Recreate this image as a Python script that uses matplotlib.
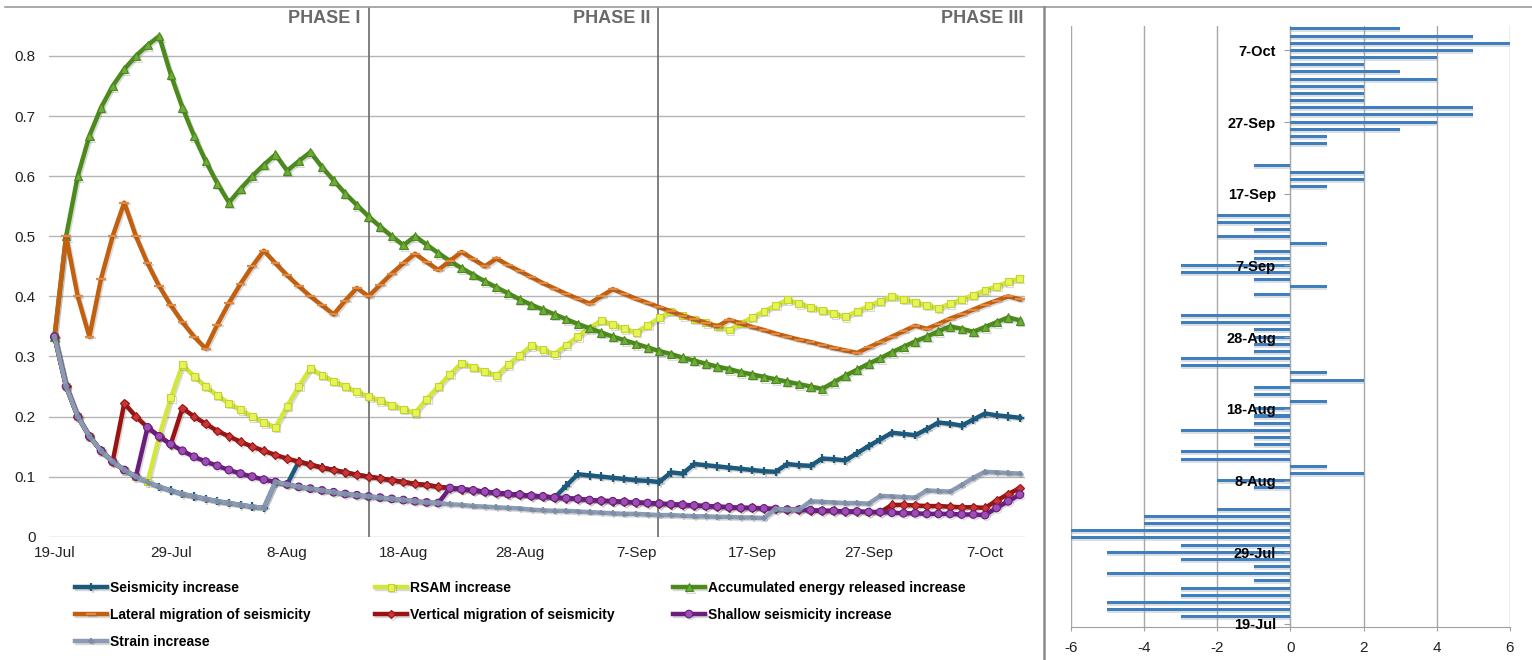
import numpy as np
import matplotlib
matplotlib.use("Agg")
import matplotlib.pyplot as plt
import matplotlib.patheffects as pe
from matplotlib.lines import Line2D

plt.rcParams['font.family'] = ['Liberation Sans', 'DejaVu Sans']
plt.rcParams['axes.unicode_minus'] = False

# daily probability of each precursor (one value per day from 19-Jul)
seismicity = [0.333, 0.25, 0.2, 0.167, 0.143, 0.125, 0.111, 0.1, 0.091, 0.083,
              0.077, 0.071, 0.067, 0.063, 0.059, 0.056, 0.053, 0.05, 0.048, 0.091,
              0.087, 0.125, 0.12, 0.115, 0.111, 0.107, 0.103, 0.1, 0.097, 0.094,
              0.091, 0.088, 0.086, 0.083, 0.081, 0.079, 0.077, 0.075, 0.073, 0.071,
              0.070, 0.068, 0.067, 0.065, 0.085, 0.104, 0.102, 0.1, 0.098, 0.096,
              0.094, 0.093, 0.091, 0.107, 0.105, 0.121, 0.119, 0.117, 0.115, 0.113,
              0.111, 0.109, 0.108, 0.121, 0.119, 0.118, 0.130, 0.129, 0.127, 0.139,
              0.151, 0.162, 0.173, 0.171, 0.169, 0.179, 0.190, 0.188, 0.185, 0.195,
              0.205, 0.202, 0.2, 0.198]
rsam = [0.333, 0.25, 0.2, 0.167, 0.143, 0.125, 0.111, 0.1, 0.091, 0.167,
        0.231, 0.286, 0.267, 0.25, 0.235, 0.222, 0.211, 0.2, 0.190, 0.182,
        0.217, 0.25, 0.28, 0.269, 0.259, 0.25, 0.241, 0.233, 0.226, 0.219,
        0.212, 0.206, 0.229, 0.25, 0.270, 0.289, 0.282, 0.275, 0.268, 0.286,
        0.302, 0.318, 0.311, 0.304, 0.319, 0.333, 0.347, 0.36, 0.353, 0.346,
        0.340, 0.352, 0.364, 0.375, 0.368, 0.362, 0.356, 0.35, 0.344, 0.355,
        0.365, 0.375, 0.385, 0.394, 0.388, 0.382, 0.377, 0.371, 0.366, 0.375,
        0.384, 0.392, 0.4, 0.395, 0.390, 0.385, 0.380, 0.388, 0.395, 0.402,
        0.410, 0.417, 0.424, 0.430]
energy = [0.333, 0.5, 0.6, 0.667, 0.714, 0.75, 0.778, 0.8, 0.818, 0.833,
          0.769, 0.714, 0.667, 0.625, 0.588, 0.556, 0.579, 0.6, 0.619, 0.636,
          0.609, 0.625, 0.64, 0.615, 0.593, 0.571, 0.552, 0.533, 0.516, 0.5,
          0.485, 0.5, 0.486, 0.472, 0.459, 0.447, 0.436, 0.425, 0.415, 0.405,
          0.395, 0.386, 0.378, 0.370, 0.362, 0.354, 0.347, 0.34, 0.333, 0.327,
          0.321, 0.315, 0.309, 0.304, 0.298, 0.293, 0.288, 0.283, 0.279, 0.274,
          0.270, 0.266, 0.262, 0.258, 0.254, 0.25, 0.246, 0.257, 0.268, 0.278,
          0.288, 0.297, 0.307, 0.316, 0.325, 0.333, 0.342, 0.35, 0.346, 0.341,
          0.349, 0.357, 0.365, 0.360]
lateral = [0.333, 0.5, 0.4, 0.333, 0.429, 0.5, 0.556, 0.5, 0.455, 0.417,
           0.385, 0.357, 0.333, 0.313, 0.353, 0.389, 0.421, 0.45, 0.476, 0.455,
           0.435, 0.417, 0.4, 0.385, 0.370, 0.393, 0.414, 0.4, 0.419, 0.438,
           0.455, 0.471, 0.457, 0.444, 0.459, 0.474, 0.462, 0.45, 0.463, 0.452,
           0.442, 0.432, 0.422, 0.413, 0.404, 0.396, 0.388, 0.4, 0.412, 0.404,
           0.396, 0.389, 0.382, 0.375, 0.368, 0.362, 0.356, 0.35, 0.361, 0.355,
           0.349, 0.344, 0.338, 0.333, 0.328, 0.324, 0.319, 0.314, 0.310, 0.306,
           0.315, 0.324, 0.333, 0.342, 0.351, 0.346, 0.354, 0.363, 0.370, 0.378,
           0.386, 0.393, 0.4, 0.395]
vertical = [0.333, 0.25, 0.2, 0.167, 0.143, 0.125, 0.222, 0.2, 0.182, 0.167,
            0.154, 0.214, 0.2, 0.188, 0.176, 0.167, 0.158, 0.15, 0.143, 0.136,
            0.130, 0.125, 0.12, 0.115, 0.111, 0.107, 0.103, 0.1, 0.097, 0.094,
            0.091, 0.088, 0.086, 0.083, 0.081, 0.079, 0.077, 0.075, 0.073, 0.071,
            0.070, 0.068, 0.067, 0.065, 0.064, 0.063, 0.061, 0.06, 0.059, 0.058,
            0.057, 0.056, 0.055, 0.054, 0.053, 0.052, 0.051, 0.05, 0.049, 0.048,
            0.048, 0.047, 0.046, 0.045, 0.045, 0.044, 0.043, 0.043, 0.042, 0.042,
            0.041, 0.041, 0.053, 0.053, 0.052, 0.051, 0.051, 0.05, 0.049, 0.049,
            0.048, 0.060, 0.071, 0.081]
shallow = [0.333, 0.25, 0.2, 0.167, 0.143, 0.125, 0.111, 0.1, 0.182, 0.167,
           0.154, 0.143, 0.133, 0.125, 0.118, 0.111, 0.105, 0.1, 0.095, 0.091,
           0.087, 0.083, 0.08, 0.077, 0.074, 0.071, 0.069, 0.067, 0.065, 0.063,
           0.061, 0.059, 0.057, 0.056, 0.081, 0.079, 0.077, 0.075, 0.073, 0.071,
           0.070, 0.068, 0.067, 0.065, 0.064, 0.063, 0.061, 0.06, 0.059, 0.058,
           0.057, 0.056, 0.055, 0.054, 0.053, 0.052, 0.051, 0.05, 0.049, 0.048,
           0.048, 0.047, 0.046, 0.045, 0.045, 0.044, 0.043, 0.043, 0.042, 0.042,
           0.041, 0.041, 0.04, 0.039, 0.039, 0.038, 0.038, 0.038, 0.037, 0.037,
           0.036, 0.048, 0.059, 0.070]
strain = [0.333, 0.25, 0.2, 0.167, 0.143, 0.125, 0.111, 0.1, 0.091, 0.083,
          0.077, 0.071, 0.067, 0.063, 0.059, 0.056, 0.053, 0.05, 0.048, 0.091,
          0.087, 0.083, 0.08, 0.077, 0.074, 0.071, 0.069, 0.067, 0.065, 0.063,
          0.061, 0.059, 0.057, 0.056, 0.054, 0.053, 0.051, 0.05, 0.049, 0.048,
          0.047, 0.045, 0.044, 0.043, 0.043, 0.042, 0.041, 0.04, 0.039, 0.038,
          0.038, 0.037, 0.036, 0.036, 0.035, 0.034, 0.034, 0.033, 0.033, 0.032,
          0.032, 0.031, 0.046, 0.045, 0.045, 0.059, 0.058, 0.057, 0.056, 0.056,
          0.055, 0.068, 0.067, 0.066, 0.065, 0.077, 0.076, 0.075, 0.086, 0.098,
          0.108, 0.107, 0.106, 0.105]

# daily change shown in the bar panel (from 20-Jul on)
daily_change = [-3, -5, -5, -3, -3, -1, -5, -1, -3, -5,
                -3, -6, -6, -4, -4, -2, 0, 0, -1, -2,
                2, 1, -3, -3, -1, -1, -3, -1, -1, -1,
                1, -1, -1, 2, 1, -3, -3, -1, -1, -1,
                -1, -3, -3, 0, 0, -1, 1, -1, -3, -3,
                -1, -1, 1, -2, -1, -2, -2, 0, 0, 0,
                1, 2, 2, -1, 0, 0, 1, 1, 3, 4,
                5, 5, 2, 2, 2, 4, 3, 2, 4, 5,
                6, 5, 3]

date_labels = ['19-Jul', '29-Jul', '8-Aug', '18-Aug', '28-Aug',
               '7-Sep', '17-Sep', '27-Sep', '7-Oct']
phase_names = ['PHASE I', 'PHASE II', 'PHASE III']

days = np.arange(len(seismicity))
bar_days = np.arange(1, len(daily_change) + 1)
tick_days = np.arange(0, 10 * len(date_labels), 10)

W, H = 1532, 660
fig = plt.figure(figsize=(W / 100, H / 100), dpi=100)

# ---- left: probability curves ----
ax = fig.add_axes([49 / W, 1 - 536.7 / H, (1025 - 49) / W, 530 / H])
ax.set_xlim(-0.47, 83.44)
ax.set_ylim(0, 0.882)
for s in ax.spines.values():
    s.set_visible(False)
ax.set_yticks(np.arange(0, 0.81, 0.1))
ax.set_yticklabels(['0', '0.1', '0.2', '0.3', '0.4', '0.5', '0.6', '0.7', '0.8'])
ax.set_xticks(tick_days)
ax.set_xticklabels(date_labels)
ax.tick_params(axis='y', length=0, pad=9.5, labelsize=11, labelcolor='#222222')
ax.tick_params(axis='x', length=0, pad=6.5, labelsize=11, labelcolor='#222222')
ax.grid(axis='y', color='#b5b5b5', lw=1)
ax.set_axisbelow(True)

styles = [
    (seismicity, 'Seismicity increase', '#1c5a7d', '+', '#1c5a7d', '#1c5a7d', 6),
    (rsam, 'RSAM increase', '#d3e63a', 's', '#e8f35a', '#c2d62a', 5),
    (energy, 'Accumulated energy released increase', '#4b8a1b', '^', '#6dac38', '#4b8a1b', 6),
    (lateral, 'Lateral migration of seismicity', '#c2600f', '_', '#e4883e', '#e4883e', 7),
    (vertical, 'Vertical migration of seismicity', '#9b1212', 'D', '#c63838', '#9b1212', 4.5),
    (shallow, 'Shallow seismicity increase', '#6b1c7f', 'o', '#9b4eb4', '#6b1c7f', 5.5),
    (strain, 'Strain increase', '#8a9bb3', '+', '#7d8ea6', '#7d8ea6', 4),
]
shadow = [pe.SimpleLineShadow(offset=(1.1, -1.1), shadow_color='#555555', alpha=0.22),
          pe.Normal()]
handles = {}
for vals, label, col, mk, mfc, mec, ms in styles:
    ln, = ax.plot(days, vals, color=col, lw=3.2, marker=mk, ms=ms,
                  mfc=mfc, mec=mec, mew=1.6 if mk in '+_' else 0.8,
                  solid_joinstyle='round', label=label, path_effects=shadow)
    handles[label] = ln

# phase boundaries
phase_lines = [27.0, 51.9]
phase_label_x = [26.3, 51.2, 83.27]
for xv in phase_lines:
    ax.axvline(xv, color='#767676', lw=1.3, zorder=1)
for xv, name in zip(phase_label_x, phase_names):
    ax.text(xv, 0.862, name, ha='right', va='center', fontsize=13,
            fontweight='bold', color='#6a6a6a')

# legend in three columns
cols = [['Seismicity increase', 'Lateral migration of seismicity', 'Strain increase'],
        ['RSAM increase', 'Vertical migration of seismicity'],
        ['Accumulated energy released increase', 'Shallow seismicity increase']]
col_x = [75, 375, 673]
for names, x0 in zip(cols, col_x):
    leg = fig.legend([handles[n] for n in names], names, loc='upper left',
                     bbox_to_anchor=(x0 / W, 1 - 581 / H), frameon=False,
                     borderpad=0, borderaxespad=0, handlelength=2.3,
                     handletextpad=0.2, labelspacing=0.93, numpoints=1,
                     prop={'weight': 'bold', 'size': 10})

# ---- right: daily change bars ----
ax2 = fig.add_axes([1070.7 / W, 1 - 626.7 / H, (1510 - 1070.7) / W, 600.7 / H])
ax2.set_xlim(-6, 6)
ax2.set_ylim(-0.39, 83.4)
ax2.barh(bar_days - 0.28, daily_change, height=0.42, color='#9aa3ad',
         alpha=0.35, zorder=2, lw=0)
ax2.barh(bar_days, daily_change, height=0.42, color='#3f7fbe', zorder=3, lw=0)
ax2.set_xticks(np.arange(-6, 7, 2))
ax2.grid(axis='x', color='#a8a8a8', lw=1)
ax2.set_axisbelow(True)
ax2.yaxis.set_zorder(5)
ax2.spines['top'].set_visible(False)
ax2.spines['right'].set_visible(False)
ax2.spines['left'].set_position(('data', 0))
ax2.spines['left'].set_color('#a8a8a8')
ax2.spines['bottom'].set_color('#a0a0a0')
ax2.set_yticks(tick_days)
ax2.set_yticklabels(date_labels, fontweight='bold')
ax2.tick_params(axis='y', length=4, color='#a0a0a0', pad=6.5, labelsize=10.5)
ax2.tick_params(axis='x', length=3, color='#a0a0a0', pad=7, labelsize=11,
                labelcolor='#222222')

# panel frame lines
fig.add_artist(Line2D([5 / W, 1], [1 - 6.7 / H] * 2, transform=fig.transFigure,
                      color='#9a9a9a', lw=1.2))
fig.add_artist(Line2D([1044 / W] * 2, [0, 1 - 6.7 / H], transform=fig.transFigure,
                      color='#8a8a8a', lw=1.8))

fig.savefig('out.png', dpi=100)
